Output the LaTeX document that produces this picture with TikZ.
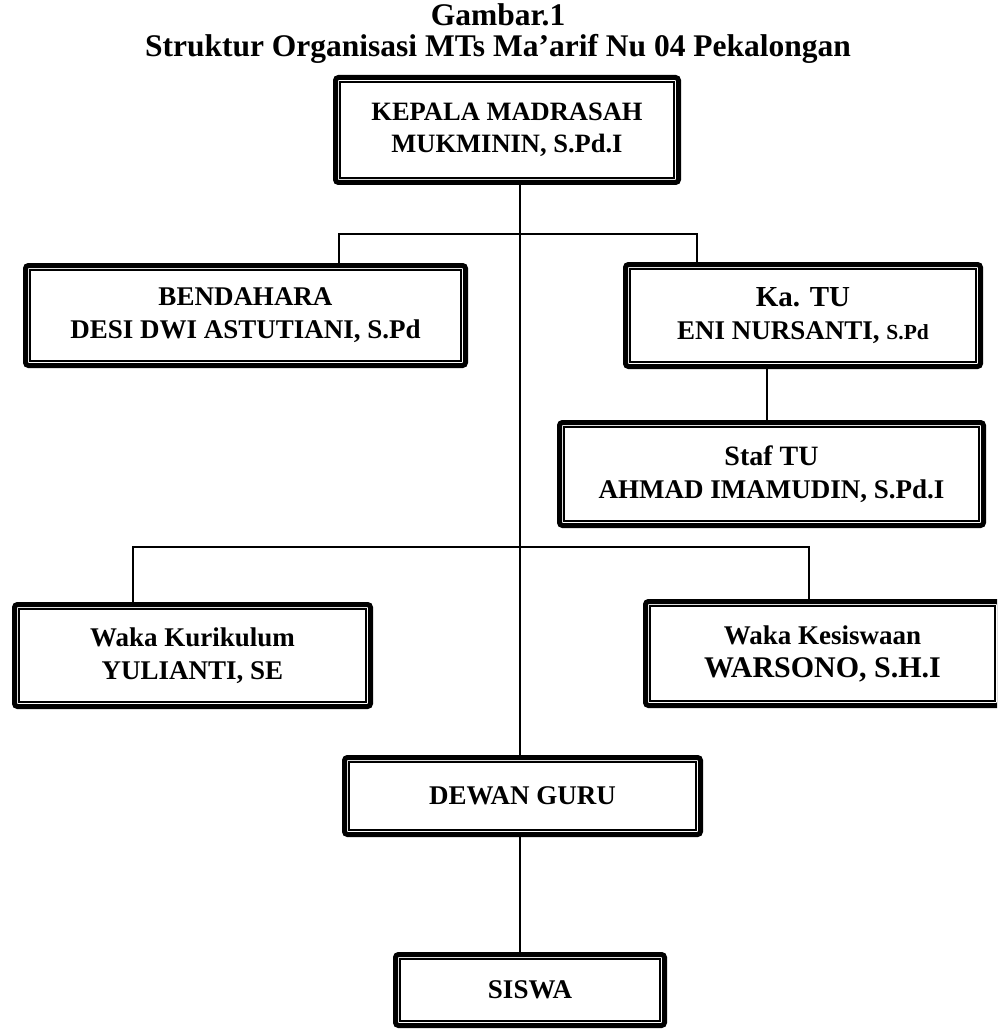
\documentclass[tikz,border=0pt]{standalone}
\usepackage{fontspec}
\setmainfont{Liberation Serif}
\usepackage{tikz}

\tikzset{
  orgbox/.style={draw, line width=5pt, rounded corners=3pt, inner sep=0pt,
    align=center, font=\bfseries\fontsize{27}{33}\selectfont,
    path picture={\draw[line width=1.3pt, sharp corners]
      ([shift={(4.5pt,4.5pt)}]path picture bounding box.south west) rectangle
      ([shift={(-4.5pt,-4.5pt)}]path picture bounding box.north east);}},
  link/.style={line width=1.2pt}
}

\begin{document}
\begin{tikzpicture}[x=1pt,y=-1pt]
\useasboundingbox (0,0) rectangle (997,1032);
\clip (0,0) rectangle (997,1032);
%TITLE
\node (title) [align=center, font=\bfseries\fontsize{31.5}{31}\selectfont] at (498,34)
  {Gambar.1\\Struktur Organisasi MTs Ma'arif Nu 04 Pekalongan};
%KEPALA
\node [orgbox, minimum width=343pt, minimum height=105pt, font=\bfseries\fontsize{26.5}{32}\selectfont] (kepala) at (507,130)
  {KEPALA MADRASAH\\MUKMININ, S.Pd.I};
%BENDAHARA AND KA. TU
\node [orgbox, minimum width=440pt, minimum height=100pt] (bendahara) at (245.5,315.5)
  {BENDAHARA\\DESI DWI ASTUTIANI, S.Pd};
\node [orgbox, minimum width=355pt, minimum height=102pt] (katu) at (803,315.5)
  {{\fontsize{29}{33}\selectfont Ka. TU}\\ENI NURSANTI, {\fontsize{21.5}{33}\selectfont S.Pd}};
\node [orgbox, minimum width=424pt, minimum height=103pt] (staf) at (771.5,474)
  {{\fontsize{28}{33}\selectfont Staf TU}\\AHMAD IMAMUDIN, S.Pd.I};
%WAKA
\node [orgbox, minimum width=356pt, minimum height=102pt] (kurikulum) at (192.5,655.5)
  {Waka Kurikulum\\YULIANTI, SE};
\node [orgbox, minimum width=354pt, minimum height=104pt] (kesiswaan) at (822.5,653.5)
  {Waka Kesiswaan\\{\fontsize{30}{34}\selectfont WARSONO, S.H.I}};
%DEWAN GURU AND SISWA
\node [orgbox, minimum width=356pt, minimum height=77pt] (dewan) at (522.5,796)
  {DEWAN GURU};
\node [orgbox, minimum width=269pt, minimum height=71pt] (siswa) at (530,990)
  {SISWA};
%CONNECTORS
\coordinate (spine) at (520,0);
\coordinate (barL) at (339,234);
\coordinate (barR) at (697,234);
\coordinate (lowL) at (133,547);
\coordinate (lowR) at (809,547);
\coordinate (tustem) at (767,0);
\draw [link] (kepala.south -| spine) -- (dewan.north -| spine);
\draw [link] (barL |- bendahara.north) -- (barL) -- (barR) -- (barR |- katu.north);
\draw [link] (katu.south -| tustem) -- (staf.north -| tustem);
\draw [link] (lowL |- kurikulum.north) -- (lowL) -- (lowR) -- (lowR |- kesiswaan.north);
\draw [link] (dewan.south -| spine) -- (siswa.north -| spine);
\end{tikzpicture}
\end{document}
